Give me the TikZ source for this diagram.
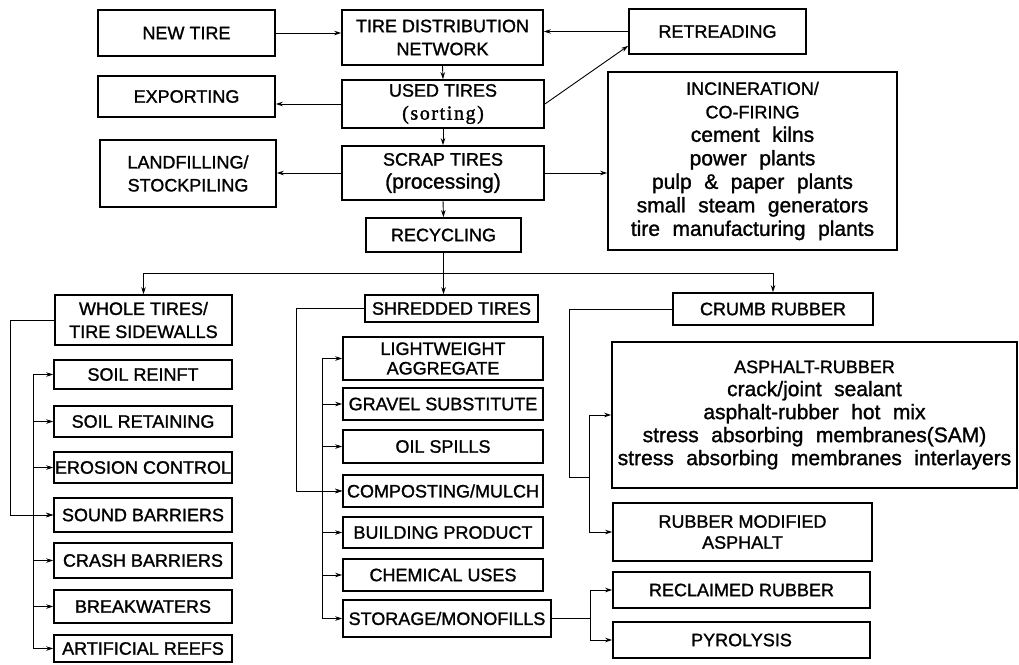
\documentclass[tikz,border=0pt]{standalone}
\usepackage{fontspec}
\setmainfont{Liberation Sans}[FakeBold=1.3]
\newfontfamily\sortfont{Liberation Serif}[LetterSpace=8,FakeBold=1.5]
\usetikzlibrary{arrows.meta}
\newcommand{\lc}{\fontsize{21}{23.5}\selectfont}
\newcommand{\wg}{\hspace{12.5pt}}
\newcommand{\mybox}[7][]{\node[box, minimum width={#5pt-#3pt}, minimum height={#6pt-#4pt}, #1] (#2) at ({(#3+#5)/2},{(#4+#6)/2}) {#7};}
\begin{document}
\begin{tikzpicture}[x=1pt,y=-1pt,
  box/.style={draw, line width=1.7pt, inner sep=0pt, align=center, font=\fontsize{18}{23}\selectfont},
  conn/.style={line width=0.9pt, line cap=rect},
  arr/.style={conn, -{Stealth[length=7pt,width=4.5pt]}}]
\useasboundingbox (0,0) rectangle (1019,664);
% top part
\mybox{newtire}{98}{10}{275}{56}{NEW TIRE}
\mybox{tdn}{342}{10}{543}{65}{TIRE DISTRIBUTION\\NETWORK}
\mybox{retread}{629}{9}{806}{54}{RETREADING}
\mybox{export}{98}{76}{275}{117}{EXPORTING}
\mybox{used}{342}{80}{544}{128}{USED TIRES\\{\sortfont\fontsize{20}{23}\selectfont (sorting)}}
\mybox{landfill}{100}{140}{276}{207}{LANDFILLING/\\STOCKPILING}
\mybox{scrap}{342}{146}{544}{200}{SCRAP TIRES\\{\lc (processing)}}
\mybox{recyc}{366}{218}{521}{252}{RECYCLING}
\mybox[font=\fontsize{18}{23.5}\selectfont]{incin}{608}{72}{897}{250}{INCINERATION/\\CO-FIRING\\{\lc cement\wg kilns}\\{\lc power\wg plants}\\{\lc pulp\wg \&\wg paper\wg plants}\\{\lc small\wg steam\wg generators}\\{\lc tire\wg manufacturing\wg plants}}
% second level
\mybox{whole}{55}{295}{232}{345}{WHOLE TIRES/\\TIRE SIDEWALLS}
\mybox{shred}{365}{295}{538}{322}{SHREDDED TIRES}
\mybox{crumb}{673}{293}{873}{325}{CRUMB RUBBER}
% left column
\mybox{soilreinft}{54}{360}{232}{389}{SOIL REINFT}
\mybox{soilret}{54}{406}{232}{437}{SOIL RETAINING}
\mybox{erosion}{54}{452}{232}{483}{EROSION CONTROL}
\mybox{sound}{54}{498}{232}{532}{SOUND BARRIERS}
\mybox{crash}{54}{543}{232}{578}{CRASH BARRIERS}
\mybox{breakw}{54}{590}{232}{623}{BREAKWATERS}
\mybox{reefs}{54}{635}{232}{662}{ARTIFICIAL REEFS}
% middle column
\mybox[font=\fontsize{18}{19.5}\selectfont]{light}{343}{337}{543}{380}{LIGHTWEIGHT\\AGGREGATE}
\mybox{gravel}{343}{388}{543}{420}{GRAVEL SUBSTITUTE}
\mybox{oil}{343}{430}{543}{463}{OIL SPILLS}
\mybox{compost}{343}{475}{543}{507}{COMPOSTING/MULCH}
\mybox{building}{343}{517}{543}{548}{BUILDING PRODUCT}
\mybox{chem}{343}{559}{543}{591}{CHEMICAL USES}
\mybox{storage}{343}{600}{551}{637}{STORAGE/MONOFILLS}
% right column
\mybox{asphalt}{612}{342}{1017}{488}{ASPHALT-RUBBER\\{\lc crack/joint\wg sealant}\\{\lc asphalt-rubber\wg hot\wg mix}\\{\lc stress\wg absorbing\wg membranes(SAM)}\\{\lc stress\wg absorbing\wg membranes\wg interlayers}}
\mybox[font=\fontsize{18}{21}\selectfont]{rma}{613}{503}{872}{561}{RUBBER MODIFIED\\ASPHALT}
\mybox{reclaimed}{613}{572}{870}{608}{RECLAIMED RUBBER}
\mybox{pyro}{613}{622}{870}{658}{PYROLYSIS}
% top connectors
\draw[arr] (newtire.east) -- (newtire.east -| tdn.west);
\draw[arr] (retread.west) -- (retread.west -| tdn.east);
\draw[arr] (tdn.south) -- (used.north);
\draw[arr] (used.south) -- (scrap.north);
\draw[arr] (scrap.south) -- (recyc.north);
\draw[arr] (used.west) -- (used.west -| export.east);
\draw[arr] (scrap.west) -- (scrap.west -| landfill.east);
\draw[arr] (scrap.east) -- (scrap.east -| incin.west);
\draw[arr] (used.east) -- ([yshift=9pt]retread.south west);
% recycling distribution
\coordinate (hb) at (recyc.south |- 0,273);
\draw[arr] (recyc.south) -- (recyc.south |- shred.north);
\draw[arr] (hb) -| (whole.north);
\draw[arr] (hb) -| (crumb.north);
% left column
\coordinate (lbus) at (33,0);
\draw[arr] (whole.west) -- ++(-44,0) |- (sound.west);
\draw[conn] (lbus |- soilreinft.west) -- (lbus |- reefs.west);
\foreach \b in {soilreinft,soilret,erosion,sound,crash,breakw,reefs}
  \draw[arr] (lbus |- \b.west) -- (\b.west);
% middle column
\coordinate (mbus) at (322,0);
\draw[arr] (shred.west) -- ++(-68,0) |- (compost.west);
\draw[conn] (mbus |- light.west) -- (mbus |- storage.west);
\foreach \b in {light,gravel,oil,compost,building,chem,storage}
  \draw[arr] (mbus |- \b.west) -- (\b.west);
% right column
\coordinate (rbus) at (589,0);
\draw[conn] (crumb.west) -- ++(-103,0) |- (rbus |- 0,477);
\draw[conn] (rbus |- asphalt.west) -- (rbus |- rma.west);
\draw[arr] (rbus |- asphalt.west) -- (asphalt.west);
\draw[arr] (rbus |- rma.west) -- (rma.west);
\coordinate (sbus) at (590,0);
\draw[conn] (storage.east) -- (sbus |- storage.east);
\draw[conn] (sbus |- reclaimed.west) -- (sbus |- pyro.west);
\draw[arr] (sbus |- reclaimed.west) -- (reclaimed.west);
\draw[arr] (sbus |- pyro.west) -- (pyro.west);
\end{tikzpicture}
\end{document}
